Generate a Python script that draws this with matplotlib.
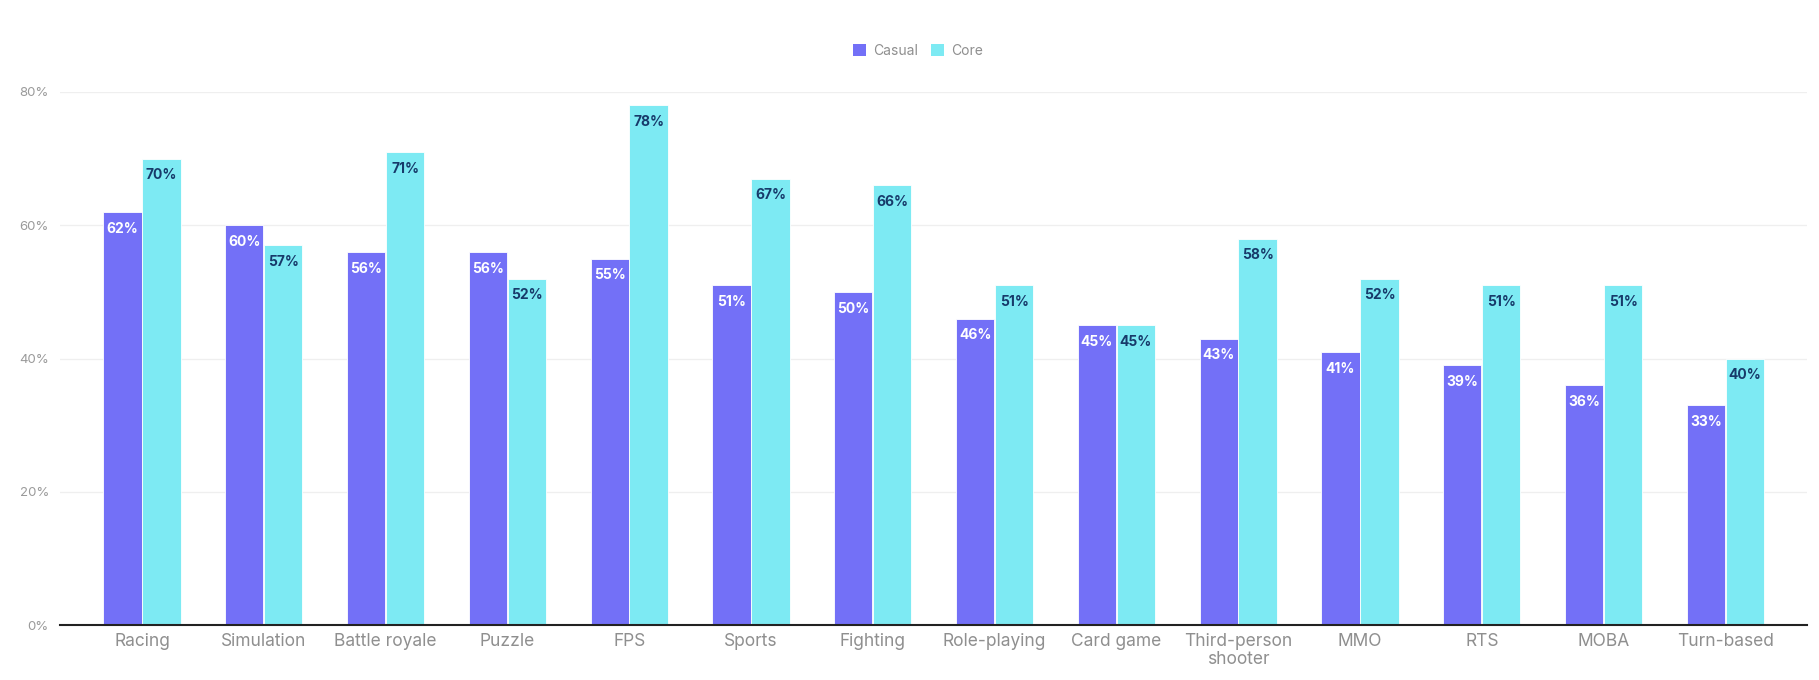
import matplotlib
matplotlib.use("Agg")
import matplotlib.pyplot as plt
import numpy as np

categories = ["Racing", "Simulation", "Battle royale", "Puzzle", "FPS", "Sports",
              "Fighting", "Role-playing", "Card game", "Third-person\nshooter",
              "MMO", "RTS", "MOBA", "Turn-based"]
casual = [62, 60, 56, 56, 55, 51, 50, 46, 45, 43, 41, 39, 36, 33]
core = [70, 57, 71, 52, 78, 67, 66, 51, 45, 58, 52, 51, 51, 40]
yticks = [0, 20, 40, 60, 80]
ytick_labels = ["0%", "20%", "40%", "60%", "80%"]

plt.rcParams['font.family'] = ['Inter', 'DejaVu Sans']

W, H = 1819, 680
fig = plt.figure(figsize=(W / 100, H / 100), dpi=100)
ax = fig.add_axes([60 / W, 1 - 625 / H, (1807 - 60) / W, (625 - 92) / H])

c_casual = "#7370F7"
c_core = "#7DEAF3"
x = np.arange(len(categories))
bw = 0.315
off = 0.16
b1 = ax.bar(x - off, casual, bw, color=c_casual, edgecolor="white", linewidth=0.6, label="Casual", zorder=3)
b2 = ax.bar(x + off, core, bw, color=c_core, edgecolor="white", linewidth=0.6, label="Core", zorder=3)

for xi, v in zip(x, casual):
    ax.annotate(f"{v}%", (xi - off, v), xytext=(0, -12), textcoords="offset points",
                ha="center", va="center", color="white", fontsize=10, fontweight="bold", zorder=4)
for xi, v in zip(x, core):
    ax.annotate(f"{v}%", (xi + off, v), xytext=(0, -12), textcoords="offset points",
                ha="center", va="center", color="#173a6a", fontsize=10, fontweight="bold", zorder=4)

ax.set_xlim(-0.673, 13.67)
ax.set_ylim(0, 80)
ax.set_yticks(yticks)
ax.set_yticklabels(ytick_labels)
ax.set_xticks(x)
ax.set_xticklabels(categories, linespacing=1.05)
ax.tick_params(axis="y", length=0, pad=8, labelsize=9.5, labelcolor="#9a9a9a")
ax.tick_params(axis="x", length=0, pad=6, labelsize=12.5, labelcolor="#8f8f8f")
ax.grid(axis="y", color="#efefef", linewidth=0.9, zorder=0)
ax.set_axisbelow(True)
for s in ["top", "right", "left"]:
    ax.spines[s].set_visible(False)
ax.spines["bottom"].set_color("#222222")
ax.spines["bottom"].set_linewidth(1.5)
ax.spines["bottom"].set_zorder(5)

leg = fig.legend(handles=[b1, b2], labels=["Casual", "Core"], loc="center",
                 bbox_to_anchor=(918 / W, 1 - 51 / H), ncol=2, frameon=False,
                 fontsize=10, handlelength=0.9, handleheight=0.9, handletextpad=0.5,
                 columnspacing=1.0, labelcolor="#8f8f8f")
for h in leg.legend_handles:
    h.set_edgecolor("none")

fig.savefig("out.png", dpi=100, facecolor="white")
